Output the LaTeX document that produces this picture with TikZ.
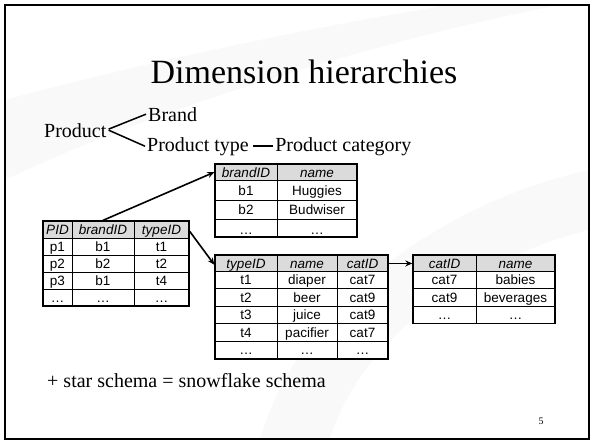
\documentclass[tikz,border=0pt]{standalone}
\usepackage{fontspec}
\setmainfont{Liberation Serif}
\setsansfont{Liberation Sans}
\usetikzlibrary{arrows.meta,positioning}

\tikzset{
  hier/.style={inner sep=0pt, font=\fontsize{20}{24}\selectfont},
  hline/.style={line width=1.5pt},
  swoosh/.style={fill=black!2.5},
  headfill/.style={fill=gray!28},
  cellfill/.style={fill=white},
  gridline/.style={line width=0.9pt},
  tabbox/.style={draw, line width=1.3pt, inner sep=0pt},
  headtxt/.style={anchor=base, inner sep=0pt, font=\sffamily\itshape\fontsize{13.5}{15}\selectfont},
  celltxt/.style={anchor=base, inner sep=0pt, font=\sffamily\fontsize{13.5}{15}\selectfont},
  fk/.style={line width=1.6pt, -{Stealth[length=7pt,width=6pt]}}
}

\begin{document}
\begin{tikzpicture}[x=1pt,y=-1pt]
    \useasboundingbox (0,0) rectangle (594,444);
    % faint background bands
    \fill[swoosh] (5,100) .. controls (150,60) and (350,20) .. (450,5) -- (560,5) .. controls (380,40) and (150,110) .. (5,180) -- cycle;
    \fill[swoosh] (260,439) .. controls (300,300) and (450,200) .. (589,170) -- (589,230) .. controls (470,260) and (360,340) .. (330,439) -- cycle;
    \draw[line width=2pt] (5,5) rectangle (589,439);
    \node[font=\fontsize{34}{40}\selectfont] (title) at (304,72) {Dimension hierarchies};

    % hierarchy
    \node[hier, anchor=base west] (hprod) at (44,137) {Product};
    \node[hier, anchor=base west] (hbrand) at (148,121) {Brand};
    \node[hier, anchor=base west] (htype) at (147,151) {Product type};
    \node[hier, right=26pt of htype] (hcat) {Product category};
    \draw[hline] ([xshift=2pt,yshift=1pt]hprod.east) -- ([xshift=-2pt]hbrand.west);
    \draw[hline] ([xshift=2pt]hprod.east) -- ([xshift=-2pt]htype.west);
    \draw[line width=2pt] ([xshift=4pt]htype.east) -- ([xshift=-2pt]hcat.west);

    % product table
    \fill[cellfill] (43,221) rectangle (189,306);
    \fill[headfill] (43,221) rectangle (189,238);
    \draw[gridline] (72,221) -- (72,306) (134,221) -- (134,306);
    \foreach \y in {238,255,272,289} \draw[gridline] (43,\y) -- (189,\y);
    \node[tabbox, minimum width=146pt, minimum height=85pt] (prodtab) at (116,263.5) {};
    \node[headtxt] (pPID) at (57.5,234.5) {PID};
    \node[headtxt] (pbrandID) at (103,234.5) {brandID};
    \node[headtxt] (ptypeID) at (161.5,234.5) {typeID};
    \foreach \p/\b/\t [count=\i] in {p1/b1/t1,p2/b2/t2,p3/b1/t4,\dots/\dots/\dots} {
        \node[celltxt] (prow\i a) at (57.5,{234.5+17*\i}) {\p};
        \node[celltxt] (prow\i b) at (103,{234.5+17*\i}) {\b};
        \node[celltxt] (prow\i c) at (161.5,{234.5+17*\i}) {\t};
    }

    % brand table
    \fill[cellfill] (215,164) rectangle (357,237);
    \fill[headfill] (215,164) rectangle (357,180);
    \draw[gridline] (277,164) -- (277,237);
    \foreach \y in {180,200,219} \draw[gridline] (215,\y) -- (357,\y);
    \node[tabbox, minimum width=142pt, minimum height=73pt] (brandtab) at (286,200.5) {};
    \node[headtxt] (bbrandID) at (246,177) {brandID};
    \node[headtxt] (bname) at (317,177) {name};
    \foreach \b/\n [count=\i] in {b1/Huggies,b2/Budwiser,\dots/\dots} {
        \node[celltxt] (brow\i a) at (246,{175.5+19.5*\i}) {\b};
        \node[celltxt] (brow\i b) at (317,{175.5+19.5*\i}) {\n};
    }

    % type table
    \fill[cellfill] (215,255) rectangle (388,359);
    \fill[headfill] (215,255) rectangle (388,271);
    \draw[gridline] (277,255) -- (277,359) (337,255) -- (337,359);
    \foreach \y in {271,288.5,306,323.5,341} \draw[gridline] (215,\y) -- (388,\y);
    \node[tabbox, minimum width=173pt, minimum height=104pt] (typetab) at (301.5,307) {};
    \node[headtxt] (ttypeID) at (246,268) {typeID};
    \node[headtxt] (tname) at (307,268) {name};
    \node[headtxt] (tcatID) at (362.5,268) {catID};
    \foreach \t/\n/\c [count=\i] in {t1/diaper/cat7,t2/beer/cat9,t3/juice/cat9,t4/pacifier/cat7,\dots/\dots/\dots} {
        \node[celltxt] (trow\i a) at (246,{267.3+17.5*\i}) {\t};
        \node[celltxt] (trow\i b) at (307,{267.3+17.5*\i}) {\n};
        \node[celltxt] (trow\i c) at (362.5,{267.3+17.5*\i}) {\c};
    }

    % category table
    \fill[cellfill] (413,255) rectangle (555,323.5);
    \fill[headfill] (413,255) rectangle (555,271);
    \draw[gridline] (476,255) -- (476,323.5);
    \foreach \y in {271,288.5,306} \draw[gridline] (413,\y) -- (555,\y);
    \node[tabbox, minimum width=142pt, minimum height=68.5pt] (cattab) at (484,289.25) {};
    \node[headtxt] (ccatID) at (444.5,268) {catID};
    \node[headtxt] (cname) at (515.5,268) {name};
    \foreach \c/\n [count=\i] in {cat7/babies,cat9/beverages,\dots/\dots} {
        \node[celltxt] (crow\i a) at (444.5,{267.3+17.5*\i}) {\c};
        \node[celltxt] (crow\i b) at (515.5,{267.3+17.5*\i}) {\n};
    }

    % foreign keys
    \draw[fk] (prodtab.north -| pbrandID) -- (brandtab.west |- bbrandID);
    \draw[fk] (prodtab.east |- ptypeID) -- (typetab.west |- ttypeID);
    \draw[fk] (typetab.east |- tcatID) -- (cattab.west |- ccatID);

    \node[anchor=base west, inner sep=0pt, font=\fontsize{20}{24}\selectfont] (star) at (47,387) {+ star schema = snowflake schema};
    \node[font=\fontsize{10}{12}\selectfont] (pagenum) at (541,421) {5};
\end{tikzpicture}
\end{document}
